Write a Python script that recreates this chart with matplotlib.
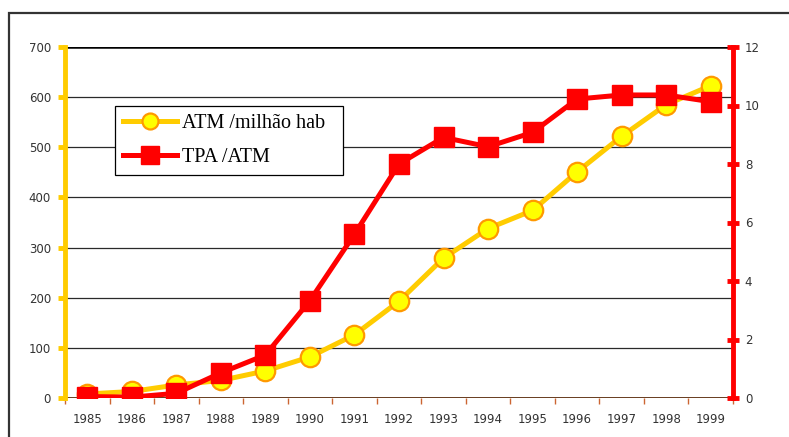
import matplotlib
matplotlib.use("Agg")
import matplotlib.pyplot as plt
from matplotlib.patches import Rectangle
from matplotlib.lines import Line2D

anos = list(range(1985, 2000))
atm_milhao = [8, 13, 26, 35, 54, 82, 126, 193, 279, 338, 374, 451, 522, 585, 623]
tpa_atm = [0.05, 0.03, 0.16, 0.86, 1.47, 3.33, 5.6, 8.0, 8.91, 8.59, 9.08, 10.22, 10.36, 10.36, 10.13]

amarelo = "#FFCC00"
vermelho = "#FF0000"

fig = plt.figure(figsize=(7.89, 4.37), dpi=100)
ax = fig.add_axes([65 / 789, 1 - 398 / 437, 668 / 789, 351 / 437])
ax2 = ax.twinx()

# moldura externa
fig.add_artist(Rectangle((9 / 789, -0.1), 2, 1 - 13 / 437 + 0.1, transform=fig.transFigure,
                         fill=False, lw=1.6, ec="#333333"))

ax.set_xlim(1984.5, 1999.5)
ax.set_ylim(0, 700)
ax2.set_ylim(0, 12)

# grade
for v in range(100, 700, 100):
    ax.axhline(v, color="#2a2a2a", lw=0.9, zorder=0)
ax.axhline(700, color="black", lw=1.8, zorder=0)
ax.axhline(0, color="#5a2a0a", lw=2.0, zorder=1)

for s in ["top", "bottom", "right"]:
    ax.spines[s].set_visible(False)
for s in ["top", "bottom", "left"]:
    ax2.spines[s].set_visible(False)
ax.spines["left"].set_color(amarelo)
ax.spines["left"].set_linewidth(3.5)
ax2.spines["right"].set_color(vermelho)
ax2.spines["right"].set_linewidth(3.5)

ax.plot(anos, atm_milhao, color=amarelo, lw=3.6, marker="o", ms=14,
        mfc="#FFFF00", mec="#FF9900", mew=1.6, zorder=3, solid_capstyle="round")
ax2.plot(anos, tpa_atm, color=vermelho, lw=3.6, marker="s", ms=14.5,
         mfc=vermelho, mec=vermelho, zorder=4)

# eixo x: marcas entre categorias, rótulos no centro
ax.set_xticks([a + 0.5 for a in range(1984, 2000)])
ax.set_xticklabels([])
ax.set_xticks(anos, minor=True)
ax.set_xticklabels([str(a) for a in anos], minor=True)
ax.tick_params(axis="x", which="major", length=4, width=1, color="#CC6633", direction="out")
ax.tick_params(axis="x", which="minor", length=0, pad=11, labelsize=8.5, labelcolor="#333333")

ax.set_yticks(range(0, 800, 100))
ax.tick_params(axis="y", length=5, width=3.5, color=amarelo, direction="out",
               pad=5, labelsize=8.5, labelcolor="#333333")
ax2.set_yticks(range(0, 14, 2))
ax2.tick_params(axis="y", length=9, width=3.5, color=vermelho, direction="inout",
                pad=4, labelsize=8.5, labelcolor="#333333")

handles = [
    Line2D([], [], color=amarelo, lw=3.6, marker="o", ms=11.5, mfc="#FFFF00", mec="#FF9900", mew=1.6),
    Line2D([], [], color=vermelho, lw=3.6, marker="s", ms=12.5, mfc=vermelho, mec=vermelho),
]
leg = ax2.legend(handles, ["ATM /milhão hab", "TPA /ATM"], loc="upper left",
                 bbox_to_anchor=(50 / 668, (398 - 176) / 351, 228 / 668, 70 / 351),
                 mode="expand", borderaxespad=0,
                 frameon=True, fancybox=False, framealpha=1, edgecolor="black",
                 prop={"family": "Liberation Serif", "size": 14.5}, handlelength=2.7,
                 handletextpad=0.25, labelspacing=0.75, borderpad=0.4)
leg.get_frame().set_linewidth(0.9)
leg.set_zorder(10)

fig.savefig("out.png", dpi=100)
